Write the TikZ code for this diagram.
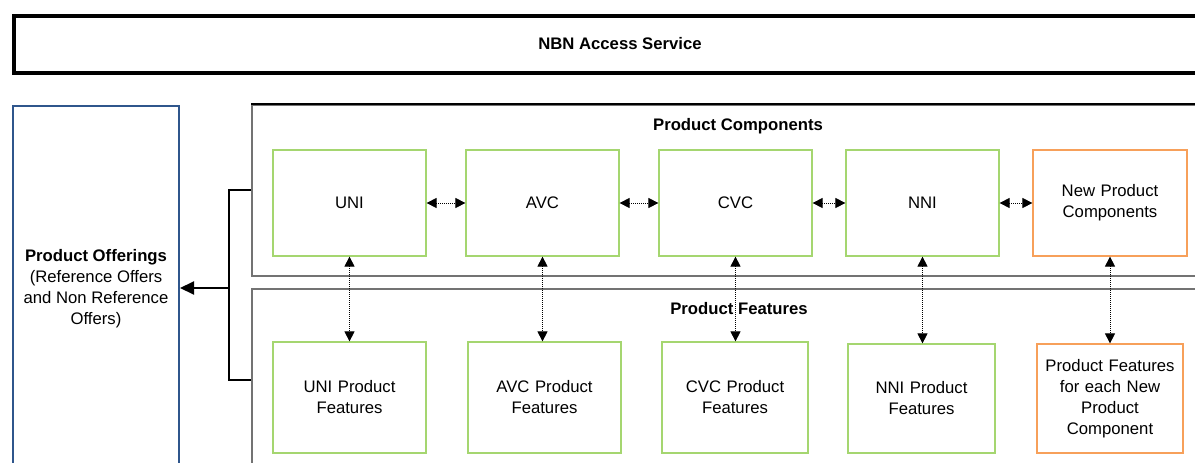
\documentclass[tikz,border=0pt]{standalone}
\usepackage{fontspec}
\setmainfont{Liberation Sans}
\usetikzlibrary{arrows.meta}
\definecolor{grn}{RGB}{165,214,112}
\definecolor{org}{RGB}{247,160,90}
\definecolor{blu}{RGB}{47,86,140}
\definecolor{gry}{RGB}{115,115,115}
\begin{document}
\begin{tikzpicture}[x=1pt,y=-1pt,
  font=\fontsize{16.7}{21}\selectfont,
  gbox/.style={draw=grn, line width=1.2pt, align=center, inner sep=0pt, text width=140pt},
  obox/.style={gbox, draw=org},
  link/.style={line width=0.8pt, dash pattern=on 1pt off 1pt, {Triangle[length=10pt,width=10pt]}-{Triangle[length=10pt,width=10pt]}},
  bracket/.style={line width=2pt}
]
\clip (0,0) rectangle (1195,463);
\fill[white] (0,0) rectangle (1195,463);

% top bar
\draw[line width=4pt] (14,16) rectangle (1215,73);
\node[font=\fontsize{16.7}{21}\selectfont\bfseries] (nbn) at (620,44) {NBN Access Service};

% product offerings
\node[draw=blu, line width=2pt, minimum width=166pt, minimum height=366pt, inner sep=0pt, align=center]
  (off) at (96,289) {\textbf{Product Offerings}\\(Reference Offers\\and Non Reference\\Offers)};

% containers
\node[draw=gry, line width=1.5pt, minimum width=970pt, minimum height=171pt, inner sep=0pt, anchor=north west] (comp) at (251,104) {};
\draw[line width=1.2pt] (251,104) -- (1215,104);
\node[draw=gry, line width=1.5pt, minimum width=970pt, minimum height=182pt, inner sep=0pt, anchor=north west] (feat) at (251,288) {};
\node[font=\fontsize{16.7}{21}\selectfont\bfseries] (compl) at (738,126) {Product Components};

% top row
\node[gbox, minimum width=153pt, minimum height=106pt] (uni) at (349.5,203) {UNI};
\node[gbox, minimum width=153pt, minimum height=106pt] (avc) at (542.5,203) {AVC};
\node[gbox, minimum width=153pt, minimum height=106pt] (cvc) at (735.5,203) {CVC};
\node[gbox, minimum width=153pt, minimum height=106pt] (nni) at (922.5,203) {NNI};
\node[obox, minimum width=154pt, minimum height=106pt] (new) at (1110,203) {New Product\\Components};

% bottom row
\node[gbox, minimum width=153pt, minimum height=111pt] (unif) at (349.5,397.5) {UNI Product\\Features};
\node[gbox, minimum width=153pt, minimum height=111pt] (avcf) at (544.5,397.5) {AVC Product\\Features};
\node[gbox, minimum width=146pt, minimum height=111pt] (cvcf) at (735,397.5) {CVC Product\\Features};
\node[gbox, minimum width=147pt, minimum height=109pt] (nnif) at (921.5,398.5) {NNI Product\\Features};
\node[obox, minimum width=146pt, minimum height=109pt] (newf) at (1110,398.5) {Product Features\\for each New\\Product\\Component};

% horizontal links
\draw[link] (uni.east) -- (avc.west);
\draw[link] (avc.east) -- (cvc.west);
\draw[link] (cvc.east) -- (nni.west);
\draw[link] (nni.east) -- (new.west);

% vertical links
\draw[link] (uni.south) -- (uni.south |- unif.north);
\draw[link] (avc.south) -- (avc.south |- avcf.north);
\draw[link] (cvc.south) -- (cvc.south |- cvcf.north);
\draw[link] (nni.south) -- (nni.south |- nnif.north);
\draw[link] (new.south) -- (new.south |- newf.north);

\node[font=\fontsize{16.7}{21}\selectfont\bfseries] (featl) at (739,309) {Product Features};

% bracket
\coordinate (bj) at (229,288);
\draw[bracket] (comp.west) -- (comp.west -| bj) -- (feat.west -| bj) -- (feat.west);
\draw[bracket, -{Triangle[length=14pt,width=13pt]}] (bj) -- (off.east |- bj);
\end{tikzpicture}
\end{document}
